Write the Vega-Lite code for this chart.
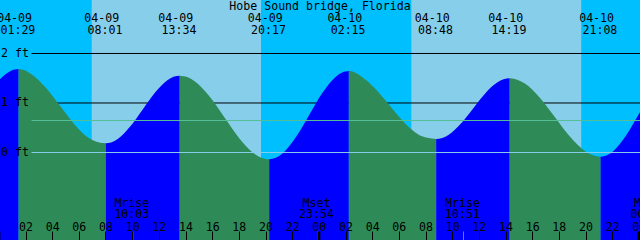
{
  "$schema": "https://vega.github.io/schema/vega-lite/v6.json",
  "width": 640,
  "height": 240,
  "padding": 0,
  "autosize": {"type": "none"},
  "title": {"text": "Hobe Sound bridge, Florida", "font": "DejaVu Sans Mono", "fontSize": 11.6, "fontWeight": "normal", "color": "black", "anchor": "middle", "baseline": "alphabetic", "offset": -21.5},
  "config": {"view": {"stroke": null}},
  "datasets": {
    "sky": [
      {"start": -2, "end": 6.98, "period": "night"},
      {"start": 6.98, "end": 19.66, "period": "day"},
      {"start": 19.66, "end": 30.97, "period": "night"},
      {"start": 30.97, "end": 43.67, "period": "day"},
      {"start": 43.67, "end": 50, "period": "night"}
    ],
    "levels": [
      {"ft": 2, "kind": "grid"},
      {"ft": 1, "kind": "grid"},
      {"ft": 0, "kind": "datum"},
      {"ft": 0.646, "kind": "msl"}
    ],
    "tide": [
      {"seg": 0, "phase": "flood", "h": -2.739, "ft": 0.347},
      {"seg": 0, "phase": "flood", "h": -1.683, "ft": 0.794},
      {"seg": 0, "phase": "flood", "h": -0.628, "ft": 1.24},
      {"seg": 0, "phase": "flood", "h": 0.428, "ft": 1.567},
      {"seg": 0, "phase": "flood", "h": 0.955, "ft": 1.657},
      {"seg": 0, "phase": "flood", "h": 1.483, "ft": 1.687},
      {"seg": 1, "phase": "ebb", "h": 1.483, "ft": 1.687},
      {"seg": 1, "phase": "ebb", "h": 1.95, "ft": 1.662},
      {"seg": 1, "phase": "ebb", "h": 2.42, "ft": 1.586},
      {"seg": 1, "phase": "ebb", "h": 3.51, "ft": 1.312},
      {"seg": 1, "phase": "ebb", "h": 4.6, "ft": 0.937},
      {"seg": 1, "phase": "ebb", "h": 5.69, "ft": 0.561},
      {"seg": 1, "phase": "ebb", "h": 6.78, "ft": 0.287},
      {"seg": 1, "phase": "ebb", "h": 7.39, "ft": 0.212},
      {"seg": 1, "phase": "ebb", "h": 8.017, "ft": 0.186},
      {"seg": 2, "phase": "flood", "h": 8.017, "ft": 0.186},
      {"seg": 2, "phase": "flood", "h": 8.479, "ft": 0.209},
      {"seg": 2, "phase": "flood", "h": 8.942, "ft": 0.278},
      {"seg": 2, "phase": "flood", "h": 9.867, "ft": 0.528},
      {"seg": 2, "phase": "flood", "h": 10.792, "ft": 0.869},
      {"seg": 2, "phase": "flood", "h": 11.717, "ft": 1.211},
      {"seg": 2, "phase": "flood", "h": 12.642, "ft": 1.461},
      {"seg": 2, "phase": "flood", "h": 13.104, "ft": 1.529},
      {"seg": 2, "phase": "flood", "h": 13.567, "ft": 1.552},
      {"seg": 3, "phase": "ebb", "h": 13.567, "ft": 1.552},
      {"seg": 3, "phase": "ebb", "h": 14.127, "ft": 1.523},
      {"seg": 3, "phase": "ebb", "h": 14.686, "ft": 1.439},
      {"seg": 3, "phase": "ebb", "h": 15.806, "ft": 1.13},
      {"seg": 3, "phase": "ebb", "h": 16.925, "ft": 0.707},
      {"seg": 3, "phase": "ebb", "h": 18.044, "ft": 0.285},
      {"seg": 3, "phase": "ebb", "h": 19.164, "ft": -0.025},
      {"seg": 3, "phase": "ebb", "h": 19.723, "ft": -0.109},
      {"seg": 3, "phase": "ebb", "h": 20.283, "ft": -0.138},
      {"seg": 4, "phase": "flood", "h": 20.283, "ft": -0.138},
      {"seg": 4, "phase": "flood", "h": 20.78, "ft": -0.108},
      {"seg": 4, "phase": "flood", "h": 21.278, "ft": -0.019},
      {"seg": 4, "phase": "flood", "h": 22.272, "ft": 0.308},
      {"seg": 4, "phase": "flood", "h": 23.267, "ft": 0.754},
      {"seg": 4, "phase": "flood", "h": 24.261, "ft": 1.2},
      {"seg": 4, "phase": "flood", "h": 25.256, "ft": 1.527},
      {"seg": 4, "phase": "flood", "h": 25.753, "ft": 1.616},
      {"seg": 4, "phase": "flood", "h": 26.25, "ft": 1.646},
      {"seg": 5, "phase": "ebb", "h": 26.25, "ft": 1.646},
      {"seg": 5, "phase": "ebb", "h": 26.67, "ft": 1.623},
      {"seg": 5, "phase": "ebb", "h": 27.09, "ft": 1.554},
      {"seg": 5, "phase": "ebb", "h": 28.18, "ft": 1.303},
      {"seg": 5, "phase": "ebb", "h": 29.28, "ft": 0.96},
      {"seg": 5, "phase": "ebb", "h": 30.37, "ft": 0.616},
      {"seg": 5, "phase": "ebb", "h": 31.46, "ft": 0.365},
      {"seg": 5, "phase": "ebb", "h": 32.13, "ft": 0.296},
      {"seg": 5, "phase": "ebb", "h": 32.8, "ft": 0.273},
      {"seg": 6, "phase": "flood", "h": 32.8, "ft": 0.273},
      {"seg": 6, "phase": "flood", "h": 33.26, "ft": 0.294},
      {"seg": 6, "phase": "flood", "h": 33.72, "ft": 0.355},
      {"seg": 6, "phase": "flood", "h": 34.639, "ft": 0.58},
      {"seg": 6, "phase": "flood", "h": 35.559, "ft": 0.886},
      {"seg": 6, "phase": "flood", "h": 36.478, "ft": 1.193},
      {"seg": 6, "phase": "flood", "h": 37.398, "ft": 1.417},
      {"seg": 6, "phase": "flood", "h": 37.857, "ft": 1.478},
      {"seg": 6, "phase": "flood", "h": 38.317, "ft": 1.499},
      {"seg": 7, "phase": "ebb", "h": 38.317, "ft": 1.499},
      {"seg": 7, "phase": "ebb", "h": 38.885, "ft": 1.472},
      {"seg": 7, "phase": "ebb", "h": 39.453, "ft": 1.393},
      {"seg": 7, "phase": "ebb", "h": 40.589, "ft": 1.103},
      {"seg": 7, "phase": "ebb", "h": 41.725, "ft": 0.708},
      {"seg": 7, "phase": "ebb", "h": 42.861, "ft": 0.312},
      {"seg": 7, "phase": "ebb", "h": 43.997, "ft": 0.022},
      {"seg": 7, "phase": "ebb", "h": 44.565, "ft": -0.057},
      {"seg": 7, "phase": "ebb", "h": 45.133, "ft": -0.084},
      {"seg": 8, "phase": "flood", "h": 45.133, "ft": -0.084},
      {"seg": 8, "phase": "flood", "h": 45.614, "ft": -0.055},
      {"seg": 8, "phase": "flood", "h": 46.094, "ft": 0.032},
      {"seg": 8, "phase": "flood", "h": 47.055, "ft": 0.35},
      {"seg": 8, "phase": "flood", "h": 48.017, "ft": 0.783},
      {"seg": 8, "phase": "flood", "h": 48.978, "ft": 1.217},
      {"seg": 8, "phase": "flood", "h": 49.939, "ft": 1.534}
    ],
    "events": [
      {"h": 1.483, "type": "high", "date": "04-09", "time": "01:29"},
      {"h": 8.017, "type": "low", "date": "04-09", "time": "08:01"},
      {"h": 13.567, "type": "high", "date": "04-09", "time": "13:34"},
      {"h": 20.283, "type": "low", "date": "04-09", "time": "20:17"},
      {"h": 26.25, "type": "high", "date": "04-10", "time": "02:15"},
      {"h": 32.8, "type": "low", "date": "04-10", "time": "08:48"},
      {"h": 38.317, "type": "high", "date": "04-10", "time": "14:19"},
      {"h": 45.133, "type": "low", "date": "04-10", "time": "21:08"}
    ],
    "moon": [
      {"h": 10.05, "event": "Mrise", "time": "10:03"},
      {"h": 23.9, "event": "Mset", "time": "23:54"},
      {"h": 34.85, "event": "Mrise", "time": "10:51"},
      {"h": 48.76, "event": "Mset", "time": "00:45"}
    ],
    "midnights": [{"h": 0}, {"h": 24}, {"h": 48}]
  },
  "layer": [
    {
      "data": {"name": "sky"},
      "mark": {"type": "rect", "clip": true},
      "encoding": {
        "x": {"field": "start", "type": "quantitative", "title": null},
        "x2": {"field": "end"},
        "fill": {"field": "period", "type": "nominal", "scale": {"domain": ["night", "day", "flood", "ebb"], "range": ["#00BFFF", "#87CEEB", "#0000FF", "#2E8B57"]}, "legend": null}
      }
    },
    {
      "data": {"name": "levels"},
      "transform": [{"filter": "datum.kind == 'grid'"}],
      "mark": {"type": "rule", "clip": true, "strokeWidth": 1},
      "encoding": {
        "x": {"datum": 2.45},
        "x2": {"datum": 49},
        "y": {"field": "ft", "type": "quantitative", "title": null},
        "stroke": {"field": "kind", "type": "nominal", "scale": {"domain": ["grid", "datum", "msl"], "range": ["#000000", "#87CEEB", "#55BF96"]}, "legend": null}
      }
    },
    {
      "data": {"name": "tide"},
      "mark": {"type": "area", "interpolate": "monotone", "clip": true},
      "encoding": {
        "x": {
          "field": "h", "type": "quantitative", "title": null,
          "scale": {"domain": [0.0875, 48.0875], "nice": false, "zero": false},
          "axis": {"orient": "bottom", "offset": -9, "values": [0, 2, 4, 6, 8, 10, 12, 14, 16, 18, 20, 22, 24, 26, 28, 30, 32, 34, 36, 38, 40, 42, 44, 46, 48], "tickCount": 40, "labelExpr": "(datum.value % 24 < 10 ? '0' : '') + (datum.value % 24)", "domain": false, "grid": false, "ticks": true, "tickSize": 9, "tickColor": "black", "tickWidth": 1, "labelPadding": -10, "labelBaseline": "alphabetic", "labelFont": "DejaVu Sans Mono", "labelFontSize": 11.6, "labelColor": "black", "labelFlush": false, "labelOverlap": false, "labelBound": false, "zindex": 1}
        },
        "y": {
          "field": "ft", "type": "quantitative", "title": null, "stack": null,
          "scale": {"domain": [-1.7677, 3.0808], "nice": false, "zero": false},
          "axis": {"orient": "left", "values": [0, 1, 2], "labelExpr": "datum.value + ' ft'", "domain": false, "grid": false, "ticks": false, "tickSize": 0, "labelAlign": "left", "labelBaseline": "middle", "labelPadding": -0.5, "labelFont": "DejaVu Sans Mono", "labelFontSize": 11.6, "labelColor": "black", "labelOverlap": false, "labelBound": false, "zindex": 1}
        },
        "y2": {"datum": -1.9},
        "fill": {"field": "phase", "type": "nominal", "scale": {"domain": ["night", "day", "flood", "ebb"], "range": ["#00BFFF", "#87CEEB", "#0000FF", "#2E8B57"]}, "legend": null},
        "detail": {"field": "seg", "type": "nominal"}
      }
    },
    {
      "data": {"name": "levels"},
      "transform": [{"filter": "datum.kind != 'grid'"}],
      "mark": {"type": "rule", "clip": true, "strokeWidth": 1},
      "encoding": {
        "x": {"datum": 2.45},
        "x2": {"datum": 49},
        "y": {"field": "ft", "type": "quantitative", "title": null},
        "stroke": {"field": "kind", "type": "nominal", "scale": {"domain": ["grid", "datum", "msl"], "range": ["#000000", "#87CEEB", "#55BF96"]}, "legend": null}
      }
    },
    {
      "data": {"name": "events"},
      "mark": {"type": "text", "font": "DejaVu Sans Mono", "fontSize": 11.6, "align": "center", "baseline": "alphabetic", "dx": -4, "color": "black"},
      "encoding": {
        "x": {"field": "h", "type": "quantitative", "title": null},
        "y": {"datum": 2.646},
        "text": {"field": "date"}
      }
    },
    {
      "data": {"name": "events"},
      "mark": {"type": "text", "font": "DejaVu Sans Mono", "fontSize": 11.6, "align": "center", "baseline": "alphabetic", "dx": -0.7, "color": "black"},
      "encoding": {
        "x": {"field": "h", "type": "quantitative", "title": null},
        "y": {"datum": 2.4},
        "text": {"field": "time"}
      }
    },
    {
      "data": {"name": "moon"},
      "mark": {"type": "text", "font": "DejaVu Sans Mono", "fontSize": 11.6, "align": "center", "baseline": "alphabetic", "dx": -1, "color": "black"},
      "encoding": {
        "x": {"field": "h", "type": "quantitative", "title": null},
        "y": {"datum": -1.095},
        "text": {"field": "event"}
      }
    },
    {
      "data": {"name": "moon"},
      "mark": {"type": "text", "font": "DejaVu Sans Mono", "fontSize": 11.6, "align": "center", "baseline": "alphabetic", "dx": -1, "color": "black"},
      "encoding": {
        "x": {"field": "h", "type": "quantitative", "title": null},
        "y": {"datum": -1.317},
        "text": {"field": "time"}
      }
    },
    {
      "data": {"name": "moon"},
      "mark": {"type": "rule", "clip": true, "strokeWidth": 1, "color": "#808080"},
      "encoding": {
        "x": {"field": "h", "type": "quantitative", "title": null},
        "y": {"datum": -1.596},
        "y2": {"datum": -1.9}
      }
    },
    {
      "data": {"name": "midnights"},
      "mark": {"type": "rule", "clip": true, "strokeWidth": 3, "color": "black"},
      "encoding": {
        "x": {"field": "h", "type": "quantitative", "title": null},
        "y": {"datum": -1.596},
        "y2": {"datum": -1.9}
      }
    }
  ]
}
